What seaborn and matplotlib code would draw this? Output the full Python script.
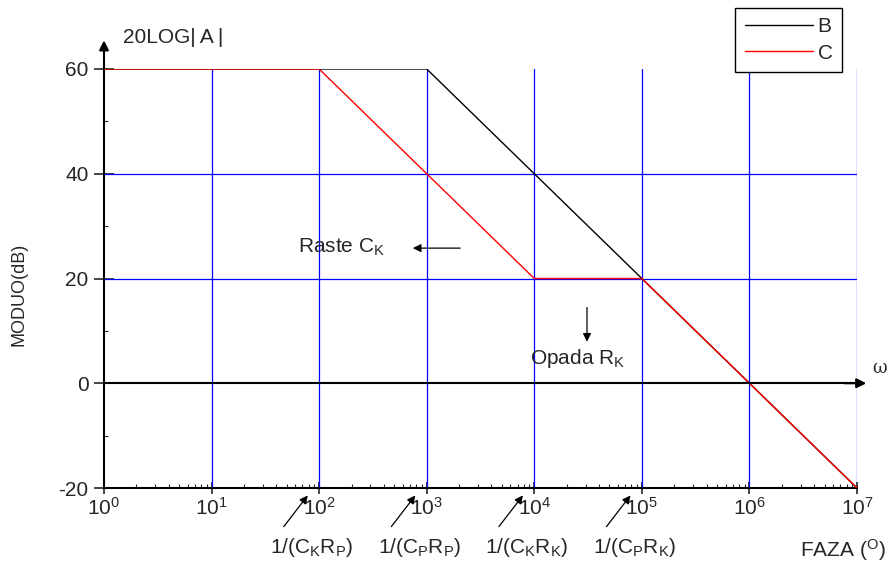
import numpy as np
import pandas as pd
import matplotlib.pyplot as plt
import seaborn as sns

sns.set_style('white')
plt.rcParams['font.family'] = ['Liberation Sans', 'DejaVu Sans']
plt.rcParams['mathtext.fontset'] = 'custom'
plt.rcParams['mathtext.rm'] = 'Liberation Sans'
plt.rcParams['mathtext.default'] = 'regular'
plt.rcParams['axes.unicode_minus'] = False

# asymptotic Bode curves
omega = [1e0, 1e1, 1e2, 1e3, 1e4, 1e5, 1e6, 1e7]
gain_b = [60, 60, 60, 60, 40, 20, 0, -20]
gain_c = [60, 60, 60, 40, 20, 20, 0, -20]

corner_freqs = [1e2, 1e3, 1e4, 1e5]
corner_labels = ['1/(C$_K$R$_P$)', '1/(C$_P$R$_P$)', '1/(C$_K$R$_K$)', '1/(C$_P$R$_K$)']
grid_db = [20, 40]
yticks = [-20, 0, 20, 40, 60]
yminor = [-10, 10, 30, 50]

df = pd.DataFrame({'w': omega, 'B': gain_b, 'C': gain_c})

fig = plt.figure(figsize=(8.92, 5.71), dpi=100)
ax = fig.add_axes([104 / 892, 1 - 488 / 571, 753 / 892, 419 / 571])

# grid first so curves sit on top
for g in grid_db:
    ax.axhline(g, color='blue', lw=0.9, zorder=1)
for f in omega[1:]:
    ax.axvline(f, color='blue', lw=0.9, zorder=1)

sns.lineplot(data=df, x='w', y='B', color='black', lw=1.0, ax=ax, label='B', zorder=3)
sns.lineplot(data=df, x='w', y='C', color='red', lw=1.0, ax=ax, label='C', zorder=4)

ax.set_xscale('log')
ax.set_xlim(1, 1e7)
ax.set_ylim(-20, 60)
ax.set_yticks(yticks)
ax.set_yticks(yminor, minor=True)
ax.set_xticks(omega)

for s in ['top', 'right']:
    ax.spines[s].set_visible(False)
for s in ['left', 'bottom']:
    ax.spines[s].set_color('black')
    ax.spines[s].set_linewidth(1.5)

ax.tick_params(axis='x', which='major', direction='inout', length=9, width=1.2,
               labelsize=15, pad=2, bottom=True)
ax.tick_params(axis='x', which='minor', direction='in', length=3, width=0.8, bottom=True)
ax.tick_params(axis='y', which='major', direction='inout', length=14, width=1.2,
               labelsize=15, pad=4, left=True)
ax.tick_params(axis='y', which='minor', direction='in', length=3, width=0.8, left=True)

ax.set_xlabel('')
ax.set_ylabel('MODUO(dB)', fontsize=13)
ax.yaxis.set_label_coords(-0.101, 0.463)

# zero line with arrow (omega axis)
ax.axhline(0, color='black', lw=1.5, zorder=5)
ax.annotate('', xy=(1.016, 0), xycoords=('axes fraction', 'data'),
            xytext=(0.98, 0), textcoords=('axes fraction', 'data'),
            arrowprops=dict(arrowstyle='-|>', color='black', lw=1.5, mutation_scale=14),
            annotation_clip=False)
ax.text(1.03, 3, r'$\omega$', transform=ax.get_yaxis_transform(), fontsize=13,
        family='DejaVu Serif', ha='center', va='center')

# y axis arrow
ax.annotate('', xy=(0, 1.075), xycoords='axes fraction',
            xytext=(0, 0.98), textcoords='axes fraction',
            arrowprops=dict(arrowstyle='-|>', color='black', lw=1.5, mutation_scale=14),
            annotation_clip=False)
ax.text(0.025, 1.076, '20LOG|\u2009A\u2009|', transform=ax.transAxes, fontsize=15,
        ha='left', va='center')

# annotations inside
ax.text(63, 26, 'Raste C$_K$', fontsize=15, ha='left', va='center')
ax.annotate('', xy=(700, 25.8), xytext=(2175, 25.8),
            arrowprops=dict(arrowstyle='-|>', color='black', lw=0.9, mutation_scale=12))
ax.text(9100, 4.8, 'Opada R$_K$', fontsize=15, ha='left', va='center')
ax.annotate('', xy=(30900, 7.4), xytext=(30900, 15),
            arrowprops=dict(arrowstyle='-|>', color='black', lw=0.9, mutation_scale=12))

# corner frequency labels under the axis
for f, lab in zip(corner_freqs, corner_labels):
    ax.annotate('', xy=(f * 10 ** -0.09, -21.0), xytext=(f * 10 ** -0.345, -27.8),
                arrowprops=dict(arrowstyle='-|>', color='black', lw=0.9, mutation_scale=12),
                annotation_clip=False)
    ax.text(f * 10 ** -0.07, -31.3, lab, fontsize=15, ha='center', va='center',
            clip_on=False)

fig.text(800 / 892, 1 - 550 / 571, 'FAZA ($^O$)', fontsize=15, ha='left', va='center')

leg = ax.legend(loc='upper right', bbox_to_anchor=(842 / 892, 1 - 8 / 571),
                bbox_transform=fig.transFigure, fancybox=False, framealpha=1,
                edgecolor='black', fontsize=15, handlelength=3.3, handletextpad=0.2,
                borderpad=0.45, labelspacing=0.35, borderaxespad=0)
leg.get_frame().set_linewidth(1.0)

fig.savefig('out.png', dpi=100)
